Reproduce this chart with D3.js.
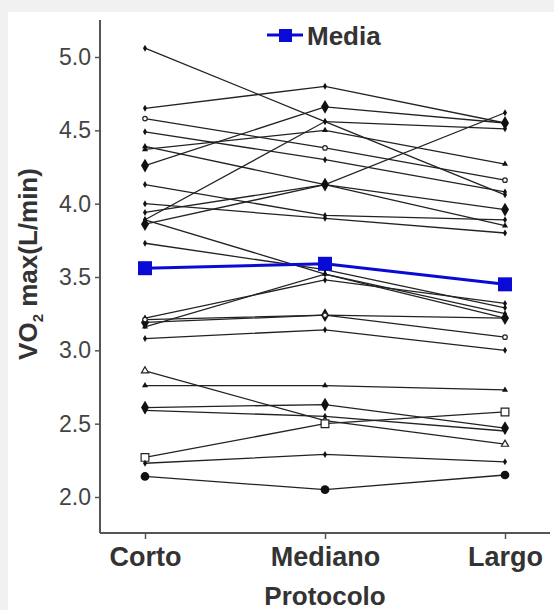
<!DOCTYPE html>
<html><head><meta charset="utf-8">
<script src="https://cdn.jsdelivr.net/npm/d3@7"></script>
<style>body{margin:0;background:#f1f1f1;}svg{display:block;}</style>
</head><body>
<script>
const categories = ["Corto", "Mediano", "Largo"];
const yTicks = [2.0, 2.5, 3.0, 3.5, 4.0, 4.5, 5.0];
const corto   = [5.06,4.65,4.58,4.49,4.39,4.37,4.26,4.13,4.00,3.94,3.89,3.86,3.73,3.89,3.22,3.19,3.16,3.08,3.21,2.86,2.76,2.61,2.59,2.27,2.23,2.14];
const mediano = [4.56,4.80,4.38,4.30,4.13,4.50,4.66,3.92,3.90,4.13,4.56,4.13,3.55,3.52,3.48,3.24,3.52,3.14,3.24,2.52,2.76,2.63,2.55,2.50,2.29,2.05];
const largo   = [4.06,4.55,4.16,4.08,3.85,4.27,4.55,3.89,3.80,4.62,4.51,3.96,3.29,3.25,3.32,3.22,3.22,3.00,3.09,2.36,2.73,2.47,2.45,2.58,2.24,2.15];
const markers = ["dia","dia","ocirc","dia","tri","tri","bigdia","dia","dia","dia","dia","bigdia","dia","dia","dia","bigdia","tri","dia","ocirc","otri","tri","bigdia","dia","osq","dia","circ"];
const media = [3.56, 3.59, 3.45];
const mediaLabel = "Media";

const W = 554, H = 610;
const FONT = "Liberation Sans, Arial, sans-serif";
const svg = d3.select("body").append("svg").attr("width", W).attr("height", H);
svg.append("rect").attr("x", 8).attr("y", 12).attr("width", W - 8).attr("height", H - 12).attr("fill", "#fff");

const x = d3.scalePoint().domain(categories).range([145, 505]);
const y = d3.scaleLinear().domain([2.0, 5.0]).range([497, 57]);

// axes
const axisColor = "#555";
svg.append("line").attr("x1", 100).attr("x2", 100).attr("y1", 20).attr("y2", 533).attr("stroke", axisColor).attr("stroke-width", 2);
svg.append("line").attr("x1", 100).attr("x2", 550).attr("y1", 533).attr("y2", 533).attr("stroke", axisColor).attr("stroke-width", 2);

const yAxis = svg.append("g").attr("transform", "translate(100,0)")
  .call(d3.axisLeft(y).tickValues(yTicks).tickFormat(d3.format(".1f")).tickSize(5).tickPadding(4));
yAxis.select(".domain").remove();
yAxis.selectAll("line").attr("stroke", axisColor).attr("stroke-width", 1.5);
yAxis.selectAll("text").attr("font-family", FONT).attr("font-size", 23).attr("fill", "#444");

const xAxis = svg.append("g").attr("transform", "translate(0,533)")
  .call(d3.axisBottom(x).tickSize(6).tickPadding(8));
xAxis.select(".domain").remove();
xAxis.selectAll("line").attr("stroke", axisColor).attr("stroke-width", 1.5);
xAxis.selectAll("text").attr("font-family", FONT).attr("font-size", 27).attr("font-weight", "bold").attr("fill", "#333").attr("dy", "0.72em");

svg.append("text").attr("x", 325).attr("y", 605).attr("text-anchor", "middle")
  .attr("font-family", FONT).attr("font-size", 26).attr("font-weight", "bold").attr("fill", "#333").text("Protocolo");

const yl = svg.append("text").attr("transform", "translate(37,264) rotate(-90)").attr("text-anchor", "middle")
  .attr("font-family", FONT).attr("font-size", 26).attr("font-weight", "bold").attr("fill", "#333");
yl.append("tspan").text("VO");
yl.append("tspan").attr("font-size", 15).attr("dy", 6).text("2");
yl.append("tspan").attr("dy", -6).text(" max(L/min)");

// subjects
const subjects = corto.map((c, i) => ({vals: [c, mediano[i], largo[i]], m: markers[i]}));
const line = d3.line().x((d, j) => x(categories[j])).y(d => y(d));
const g = svg.append("g");
subjects.forEach(s => {
  g.append("path").attr("d", line(s.vals)).attr("fill", "none").attr("stroke", "#222").attr("stroke-width", 1.3);
});
function drawMarker(sel, type, cx, cy) {
  let sym, size, fill = "#111", stroke = "none";
  if (type === "dia") { sym = d3.symbolDiamond; size = 14; }
  else if (type === "bigdia") { sym = d3.symbolDiamond; size = 55; }
  else if (type === "tri") { sym = d3.symbolTriangle; size = 16; }
  else if (type === "otri") { sym = d3.symbolTriangle; size = 22; fill = "#fff"; stroke = "#222"; }
  else if (type === "ocirc") { sym = d3.symbolCircle; size = 16; fill = "#fff"; stroke = "#222"; }
  else if (type === "osq") { sym = d3.symbolSquare; size = 60; fill = "#fff"; stroke = "#222"; }
  else if (type === "circ") { sym = d3.symbolCircle; size = 60; }
  sel.append("path").attr("d", d3.symbol().type(sym).size(size)()).attr("transform", `translate(${cx},${cy})`)
    .attr("fill", fill).attr("stroke", stroke).attr("stroke-width", 1.2);
}
subjects.forEach(s => s.vals.forEach((v, j) => drawMarker(g, s.m, x(categories[j]), y(v))));

// mean
const blue = "#0a0ad6";
svg.append("path").attr("d", line(media)).attr("fill", "none").attr("stroke", blue).attr("stroke-width", 3);
media.forEach((v, j) => svg.append("rect").attr("x", x(categories[j]) - 7).attr("y", y(v) - 7).attr("width", 14).attr("height", 14).attr("fill", blue));

// legend
svg.append("line").attr("x1", 267).attr("x2", 303).attr("y1", 35).attr("y2", 35).attr("stroke", blue).attr("stroke-width", 3);
svg.append("rect").attr("x", 279).attr("y", 29).attr("width", 13).attr("height", 13).attr("fill", blue);
svg.append("text").attr("x", 307).attr("y", 45).attr("font-family", FONT).attr("font-size", 26).attr("font-weight", "bold").attr("fill", "#333").text(mediaLabel);
</script>
</body></html>
